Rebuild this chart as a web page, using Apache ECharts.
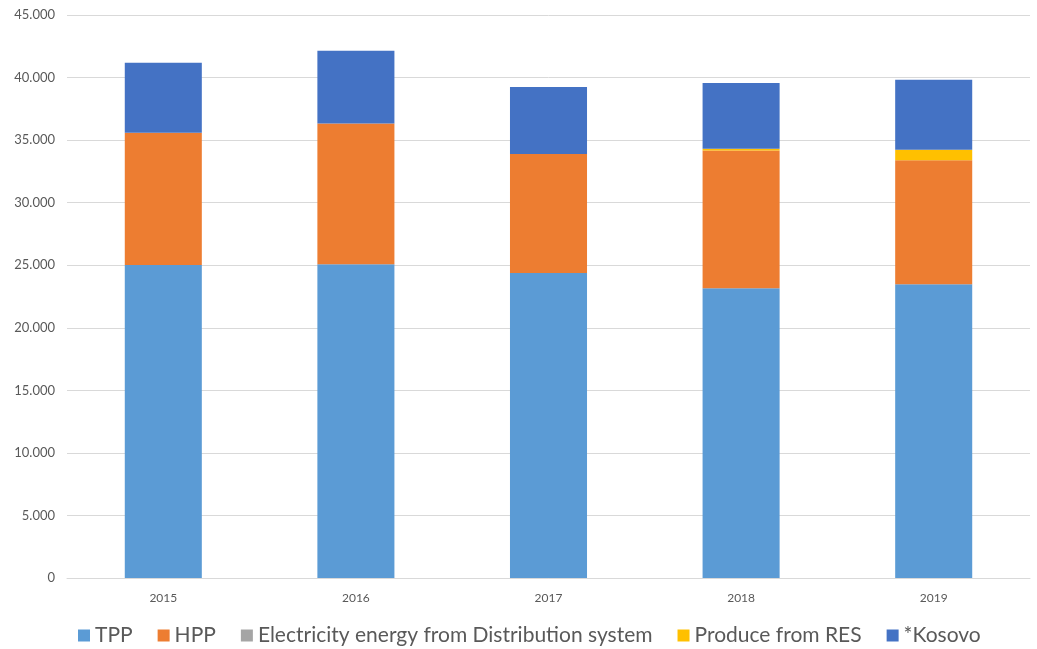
<!DOCTYPE html>
<html>
<head>
<meta charset="utf-8">
<script src="https://cdn.jsdelivr.net/npm/echarts@6/dist/echarts.min.js"></script>
<style>
  html, body { margin: 0; padding: 0; background: #fff; }
  #chart { width: 1037px; height: 649px; }
</style>
</head>
<body>
<div id="chart"></div>
<script>
// Electricity production by source, 2015–2019 (stacked)
const years = ['2015', '2016', '2017', '2018', '2019'];
const tpp = [25020, 25080, 24380, 23160, 23480];
const hpp = [10560, 11250, 9500, 11010, 9920];
const distribution = [0, 0, 0, 0, 0];
const res = [0, 0, 0, 130, 820];
const kosovo = [5600, 5810, 5360, 5260, 5600];

const seriesNames = ['TPP', 'HPP', 'Electricity energy from Distribution system', 'Produce from RES', '*Kosovo'];
const seriesColors = ['#5B9BD5', '#ED7D31', '#A5A5A5', '#FFC000', '#4472C4'];
const seriesData = [tpp, hpp, distribution, res, kosovo];

const fontFamily = 'Lato, "Open Sans", "Liberation Sans", sans-serif';

const chart = echarts.init(document.getElementById('chart'), null, { renderer: 'canvas' });

chart.setOption({
  animation: false,
  backgroundColor: '#ffffff',
  grid: { left: 67, right: 7, top: 15, bottom: 71, containLabel: false },
  legend: {
    top: 620,
    left: 73,
    itemWidth: 12,
    itemHeight: 12,
    itemGap: 25,
    icon: 'rect',
    textStyle: { fontSize: 21, color: '#595959', fontFamily: fontFamily },
    data: seriesNames
  },
  xAxis: {
    type: 'category',
    data: years,
    axisLine: { lineStyle: { color: '#D9D9D9', width: 1 } },
    axisTick: { show: false },
    axisLabel: { color: '#595959', fontSize: 12, fontFamily: fontFamily, margin: 14 }
  },
  yAxis: {
    type: 'value',
    min: 0,
    max: 45000,
    interval: 5000,
    axisLine: { show: false },
    axisTick: { show: false },
    splitLine: { lineStyle: { color: '#D9D9D9', width: 1 } },
    axisLabel: {
      color: '#595959',
      fontSize: 13,
      fontFamily: fontFamily,
      margin: 12,
      formatter: v => v === 0 ? '0' : String(v).replace(/\B(?=(\d{3})+(?!\d))/g, '.')
    }
  },
  series: seriesNames.map((name, i) => ({
    name: name,
    type: 'bar',
    stack: 'total',
    barWidth: '40%',
    data: seriesData[i],
    itemStyle: { color: seriesColors[i] }
  }))
});
</script>
</body>
</html>
